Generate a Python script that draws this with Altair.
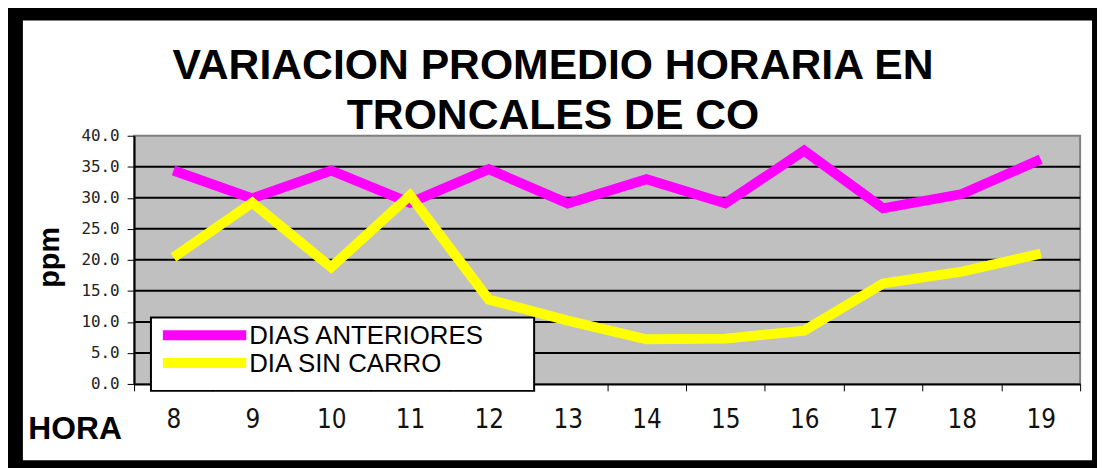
import altair as alt
import pandas as pd

# ---- data ----
hours = ["8", "9", "10", "11", "12", "13", "14", "15", "16", "17", "18", "19"]
series_names = ["DIAS ANTERIORES", "DIA SIN CARRO"]
series_colors = ["#FF00FF", "#FFFF00"]
dias_anteriores = [34.4, 29.9, 34.4, 29.2, 34.6, 29.1, 33.0, 29.1, 37.6, 28.3, 30.6, 36.2]
dia_sin_carro = [20.4, 29.2, 18.8, 30.4, 13.6, 10.2, 7.2, 7.3, 8.6, 16.2, 18.1, 21.0]
y_ticks = [0, 5, 10, 15, 20, 25, 30, 35, 40]
grid_values = [5, 10, 15, 20, 25, 30, 35]
title_lines = ["VARIACION PROMEDIO HORARIA EN", "TRONCALES DE CO"]
x_title = "HORA"
y_title = "ppm"

W, H = 953, 250

rows = []
for name, vals in zip(series_names, [dias_anteriores, dia_sin_carro]):
    for h, v in zip(hours, vals):
        rows.append({"hora": h, "ppm": v, "serie": name})
df = pd.DataFrame(rows)

yscale = alt.Scale(domain=[0, 40], nice=False, zero=True)
cscale = alt.Scale(domain=series_names, range=series_colors)
one = pd.DataFrame({"a": [0]})

yaxis = alt.Axis(values=y_ticks, format=".1f", grid=False, tickSize=7, tickColor="black",
                 domainColor="black", domainWidth=2, labelFont="DejaVu Sans Mono",
                 labelFontSize=16, labelColor="#222", labelPadding=8,
                 title=y_title, titleFont="Liberation Sans", titleFontSize=29,
                 titleFontWeight="bold", titleColor="black", titleX=-85, titleY=122,
                 titleAngle=270, titleAlign="center", titleBaseline="middle")


def box(x, x2, y, y2, fill, stroke=None, sw=0):
    kw = dict(fill=fill, clip=False)
    if stroke:
        kw.update(stroke=stroke, strokeWidth=sw)
    return alt.Chart(one).mark_rect(**kw).encode(
        x=alt.value(x), x2=alt.value(x2), y=alt.value(y), y2=alt.value(y2))

# black frame around the whole picture
frame = [
    box(-135, -112, -135, 340, "black"),
    box(-135, 980, -135, -116, "black"),
    box(965, 980, -135, 340, "black"),
    box(-135, 980, 327, 340, "black"),
]

# title as two text lines
title_layers = []
for i, t in enumerate(title_lines):
    title_layers.append(
        alt.Chart(pd.DataFrame({"t": [t]})).mark_text(
            align="center", baseline="alphabetic", font="Liberation Sans", fontSize=43,
            fontWeight="bold", color="black", clip=False).encode(
            text="t:N", x=alt.value(422), y=alt.value(-57 + 50 * i)))

grid = alt.Chart(pd.DataFrame({"v": grid_values})).mark_rule(
    color="black", strokeWidth=2).encode(y=alt.Y("v:Q", scale=yscale, axis=yaxis))

legend_box = box(17, 403, 183, 257, "white", "black", 2)

lines = alt.Chart(df).mark_line(strokeWidth=10, strokeJoin="miter", strokeCap="butt").encode(
    x=alt.X("hora:N", sort=hours, bandPosition=0.5,
            scale=alt.Scale(type="band", paddingInner=0, paddingOuter=0),
            axis=alt.Axis(title=x_title, labelAngle=0, tickBand="extent", tickSize=7,
                          tickColor="black", tickWidth=1, domainColor="black", domainWidth=2,
                          labelFont="Liberation Sans Narrow, DejaVu Sans Condensed, sans-serif",
                          labelFontSize=26, labelColor="#111", labelPadding=16,
                          titleFont="Liberation Sans", titleFontSize=32, titleFontWeight="bold",
                          titleColor="black", titleX=-107, titleY=55, titleAlign="left",
                          titleBaseline="alphabetic", titleAngle=0)),
    y=alt.Y("ppm:Q", scale=yscale, axis=yaxis),
    color=alt.Color("serie:N", scale=cscale, legend=None),
    detail="serie:N",
)

leg_layers = []
for i, (name, col) in enumerate(zip(series_names, series_colors)):
    yy = 201 + 28 * i
    leg_layers.append(
        alt.Chart(one).mark_rule(color=col, strokeWidth=10, clip=False).encode(
            x=alt.value(29), x2=alt.value(113), y=alt.value(yy)))
    leg_layers.append(
        alt.Chart(pd.DataFrame({"s": [name]})).mark_text(
            align="left", baseline="middle", font="Liberation Sans", fontSize=26,
            color="black", clip=False).encode(
            text="s:N", x=alt.value(116), y=alt.value(yy + 1)))

chart = alt.layer(*frame, *title_layers, grid, legend_box, lines, *leg_layers).properties(
    width=W, height=H,
    autosize=alt.AutoSizeParams(type="none"),
    padding={"left": 127, "top": 127, "right": 17, "bottom": 83},
    background="white",
).configure_view(fill="#C0C0C0", stroke="#808080", strokeWidth=2)

chart.save("out.html", embed_options={"renderer": "svg", "actions": False})
